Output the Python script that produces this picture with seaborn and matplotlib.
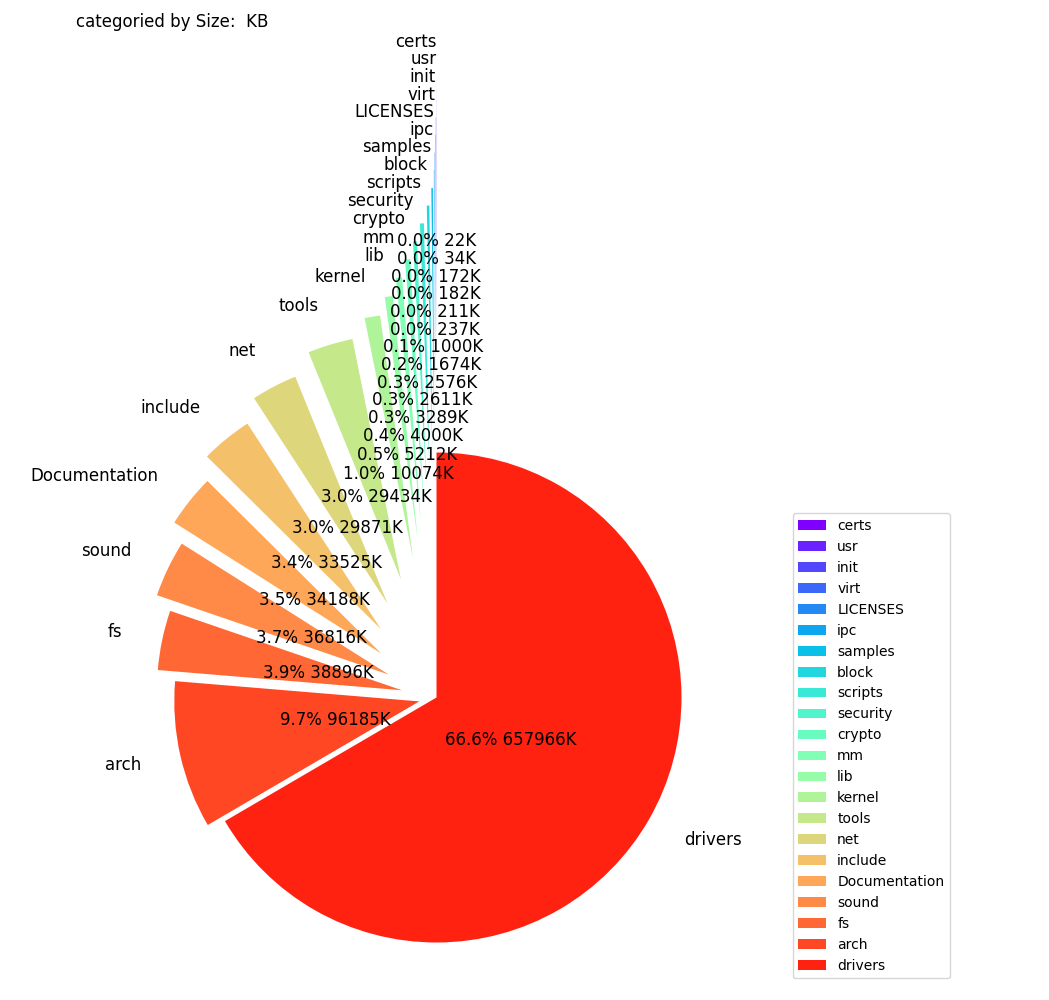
import matplotlib
matplotlib.use("Agg")
import matplotlib.pyplot as plt
import numpy as np
import seaborn as sns

# --- data (KB per top-level directory, ascending) ---
dirs = ["certs", "usr", "init", "virt", "LICENSES", "ipc", "samples", "block",
        "scripts", "security", "crypto", "mm", "lib", "kernel", "tools", "net",
        "include", "Documentation", "sound", "fs", "arch", "drivers"]
sizes_kb = [22, 34, 172, 182, 211, 237, 1000, 1674, 2576, 2611, 3289, 4000,
            5212, 10074, 29434, 29871, 33525, 34188, 36816, 38896, 96185, 657966]
title_text = "categoried by Size:  KB"

n = len(dirs)
total = sum(sizes_kb)

# rainbow colours, i/n spacing
colors = sns.color_palette([plt.cm.rainbow(i / n) for i in range(n)])
# smaller wedges pushed further out
explode = [0.072 * (n - 1 - i) for i in range(n)]

W, H = 1049, 1000
fig = plt.figure(figsize=(W / 100, H / 100), dpi=100)
ax = fig.add_axes([0, 0, 1, 1])

wedges, texts, autotexts = ax.pie(
    sizes_kb, labels=dirs, colors=colors, explode=explode,
    startangle=90, labeldistance=1.165, pctdistance=0.35,
    autopct=lambda p: f"{p:.1f}% {int(round(p * total / 100))}K",
    textprops={"fontsize": 12},
)

# pie centre at (436.5, 697.5) px from top-left, radius 245 px
r_px = 245.0
cx, cy = 436.5, 697.5
ax.set_aspect("auto")
ax.set_xlim(-cx / r_px, (W - cx) / r_px)
ax.set_ylim(-(H - cy) / r_px, cy / r_px)
ax.axis("off")

fig.legend(wedges, dirs, loc="lower left", fontsize=10, borderaxespad=0,
           bbox_to_anchor=(792.7 / W, (H - 978.3) / H),
           bbox_transform=fig.transFigure)

fig.text(76 / W, 1 - 22 / H, title_text, fontsize=12, ha="left", va="center")

fig.savefig("out.png", dpi=100)
